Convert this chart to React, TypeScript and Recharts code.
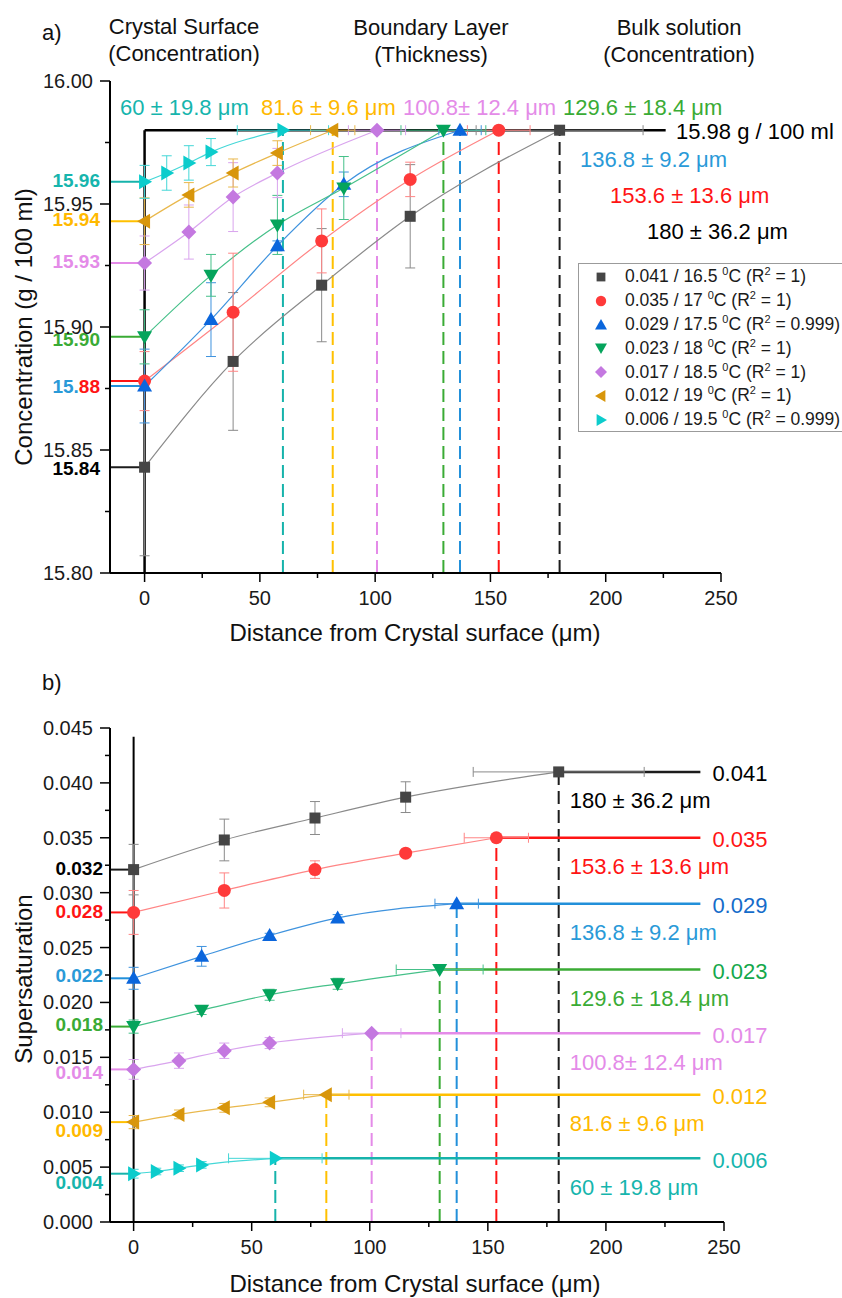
import React from 'react';
import {
  ComposedChart,
  Line,
  Scatter,
  XAxis,
  YAxis,
  ErrorBar,
  ReferenceLine,
  ReferenceDot,
} from 'recharts';

const FONT = '"Liberation Sans", Arial, Helvetica, sans-serif';

// distance from the crystal surface (µm) of every measured point, one list per run
const dist041 = [0, 38.4, 76.8, 115.2, 180];
const dist035 = [0, 38.4, 76.8, 115.2, 153.6];
const dist029 = [0, 28.8, 57.6, 86.4, 136.8];
const dist023 = [0, 28.8, 57.6, 86.4, 129.6];
const dist017 = [0, 19.2, 38.4, 57.6, 100.8];
const dist012 = [0, 19.2, 38.4, 57.6, 81.6];
const dist006 = [0, 9.6, 19.2, 28.8, 60];
const runDist = [dist041, dist035, dist029, dist023, dist017, dist012, dist006];

// concentration (g / 100 ml) at those points
const conc041 = [15.843, 15.886, 15.917, 15.945, 15.98];
const conc035 = [15.878, 15.906, 15.935, 15.96, 15.98];
const conc029 = [15.876, 15.903, 15.933, 15.958, 15.98];
const conc023 = [15.896, 15.921, 15.9415, 15.9565, 15.98];
const conc017 = [15.926, 15.9386, 15.9528, 15.9626, 15.98];
const conc012 = [15.943, 15.9537, 15.9626, 15.9707, 15.98];
const conc006 = [15.959, 15.9626, 15.9667, 15.9711, 15.98];
const runConc = [conc041, conc035, conc029, conc023, conc017, conc012, conc006];

// standard deviation of the concentration (none on the bulk point)
const concErr041 = [0.036, 0.028, 0.023, 0.021, null];
const concErr035 = [0.012, 0.024, 0.013, 0.007, null];
const concErr029 = [0.015, 0.015, 0.002, 0.005, null];
const concErr023 = [0.011, 0.0085, 0.012, 0.0128, null];
const concErr017 = [0.011, 0.011, 0.014, 0.01, null];
const concErr012 = [0.0095, 0.005, 0.0057, 0.005, null];
const concErr006 = [0.0067, 0.007, 0.007, 0.0055, null];
const runConcErr = [concErr041, concErr035, concErr029, concErr023, concErr017, concErr012, concErr006];

// supersaturation at the same points
const ss041 = [0.0321, 0.0348, 0.0368, 0.0387, 0.041];
const ss035 = [0.0282, 0.0302, 0.0321, 0.0336, 0.035];
const ss029 = [0.0222, 0.0242, 0.0261, 0.0277, 0.029];
const ss023 = [0.0178, 0.0193, 0.0207, 0.0217, 0.023];
const ss017 = [0.0139, 0.0147, 0.0156, 0.0163, 0.0172];
const ss012 = [0.0091, 0.0098, 0.0104, 0.0109, 0.0116];
const ss006 = [0.0044, 0.0046, 0.0049, 0.0052, 0.0058];
const runSs = [ss041, ss035, ss029, ss023, ss017, ss012, ss006];

const ssErr041 = [0.0023, 0.0019, 0.0015, 0.0014, null];
const ssErr035 = [0.002, 0.0016, 0.0008, 0.0003, null];
const ssErr029 = [0.001, 0.0009, 0.0002, 0.0003, null];
const ssErr023 = [0.0006, 0.0004, 0.0005, 0.0005, null];
const ssErr017 = [0.0009, 0.0007, 0.0007, 0.0005, null];
const ssErr012 = [0.0006, 0.0004, 0.0004, 0.0004, null];
const ssErr006 = [0.0004, 0.0003, 0.0003, 0.0003, null];
const runSsErr = [ssErr041, ssErr035, ssErr029, ssErr023, ssErr017, ssErr012, ssErr006];

// boundary layer thickness (µm) and its deviation
const thickness = [180, 153.6, 136.8, 129.6, 100.8, 81.6, 60];
const thicknessErr = [36.2, 13.6, 9.2, 18.4, 12.4, 9.6, 19.8];
const thicknessText = [
  '180 ± 36.2 μm',
  '153.6 ± 13.6 μm',
  '136.8 ± 9.2 μm',
  '129.6 ± 18.4 μm',
  '100.8± 12.4 μm',
  '81.6 ± 9.6 μm',
  '60 ± 19.8 μm',
];

const bulkConc = 15.98;

// legend entries
const runSupersat = ['0.041', '0.035', '0.029', '0.023', '0.017', '0.012', '0.006'];
const runTemp = ['16.5', '17', '17.5', '18', '18.5', '19', '19.5'];
const runR2 = ['1', '1', '0.999', '1', '1', '1', '0.999'];

// value tags at the surface and in the bulk
const surfaceConcText = ['15.84', '', '15.88', '15.90', '15.93', '15.94', '15.96'];
const surfaceSsText = ['0.032', '0.028', '0.022', '0.018', '0.014', '0.009', '0.004'];
const bulkSsText = ['0.041', '0.035', '0.029', '0.023', '0.017', '0.012', '0.006'];

// axis ticks
const distTicks = [0, 25, 50, 75, 100, 125, 150, 175, 200, 225, 250];
const concTicks = [15.8, 15.825, 15.85, 15.875, 15.9, 15.925, 15.95, 15.975, 16.0];
const ssTicks = [
  0, 0.0025, 0.005, 0.0075, 0.01, 0.0125, 0.015, 0.0175, 0.02, 0.0225, 0.025, 0.0275,
  0.03, 0.0325, 0.035, 0.0375, 0.04, 0.0425, 0.045,
];

const STYLE = [
  { marker: '#454545', curve: '#8a8a8a', shape: 'square', accent: '#1c1c1c', text: '#000000', value: '#000000' },
  { marker: '#ff3a3a', curve: '#ff8585', shape: 'circle', accent: '#ff1414', text: '#ff1414', value: '#ff1414' },
  { marker: '#0b66dc', curve: '#3f93de', shape: 'up', accent: '#2290da', text: '#2a9ad8', value: '#156cca' },
  { marker: '#05a45c', curve: '#45c089', shape: 'down', accent: '#3aab35', text: '#3aab35', value: '#14a84c' },
  { marker: '#c478e0', curve: '#d9a4ee', shape: 'diamond', accent: '#e48be8', text: '#e48be8', value: '#e48be8' },
  { marker: '#d8960b', curve: '#e9b84c', shape: 'left', accent: '#ffc000', text: '#ffb900', value: '#ffb900' },
  { marker: '#0ccccc', curve: '#44d7d7', shape: 'right', accent: '#16b3ab', text: '#16b5ad', value: '#16b5ad' },
];

// vertical nudges of the surface tags relative to their arrow
const concTagNudge = [1, 0, 0, 3, -2, -2, -1];
const ssTagNudge = [-1, -1, -3, -2, 3, 8, 9];

const AXIS = { stroke: '#000', strokeWidth: 2 };

function Marker({ kind, cx, cy, fill, s = 1 }: any) {
  const a = 7.5 * s;
  const b = 5.5 * s;
  switch (kind) {
    case 'square':
      return <rect x={cx - 5.5 * s} y={cy - 5.5 * s} width={11 * s} height={11 * s} fill={fill} />;
    case 'circle':
      return <circle cx={cx} cy={cy} r={6.5 * s} fill={fill} />;
    case 'up':
      return <polygon points={`${cx},${cy - a} ${cx + a},${cy + b} ${cx - a},${cy + b}`} fill={fill} />;
    case 'down':
      return <polygon points={`${cx},${cy + a} ${cx + a},${cy - b} ${cx - a},${cy - b}`} fill={fill} />;
    case 'diamond':
      return <polygon points={`${cx},${cy - a} ${cx + a},${cy} ${cx},${cy + a} ${cx - a},${cy}`} fill={fill} />;
    case 'left':
      return <polygon points={`${cx - a},${cy} ${cx + b},${cy - a} ${cx + b},${cy + a}`} fill={fill} />;
    default:
      return <polygon points={`${cx + a},${cy} ${cx - b},${cy - a} ${cx - b},${cy + a}`} fill={fill} />;
  }
}

const isMajor = (v: number, step: number) => Math.abs(v / step - Math.round(v / step)) < 1e-6;

function XTick({ x, y, payload }: any) {
  const v = payload.value;
  const major = isMajor(v, 50);
  return (
    <g>
      <line x1={x} x2={x} y1={y} y2={y + (major ? 9 : 5)} stroke="#000" strokeWidth={1.5} />
      {major && (
        <text x={x} y={y + 25} textAnchor="middle" dominantBaseline="central" fontSize={20} fontFamily={FONT} fill="#1a1a1a">
          {v}
        </text>
      )}
    </g>
  );
}

function YTick({ x, y, payload, step, digits }: any) {
  const v = payload.value;
  const major = isMajor(v, step);
  return (
    <g>
      <line x1={x} x2={x - (major ? 10 : 5)} y1={y} y2={y} stroke="#000" strokeWidth={1.5} />
      {major && (
        <text x={x - 17} y={y} textAnchor="end" dominantBaseline="central" fontSize={20} fontFamily={FONT} fill="#1a1a1a">
          {v.toFixed(digits)}
        </text>
      )}
    </g>
  );
}

const rows = (ys: number[][], errs: (number | null)[][], i: number) =>
  runDist[i].map((x, k) => ({
    x,
    y: ys[i][k],
    e: errs[i][k] ?? undefined,
    xe: k === runDist[i].length - 1 ? thicknessErr[i] : undefined,
  }));

const tag = (text: React.ReactNode, fill: string, dx: number, dy: number, opts: any = {}) => (p: any) => (
  <text
    x={p.cx + dx}
    y={p.cy + dy}
    fill={fill}
    fontSize={opts.size || 22}
    fontWeight={opts.bold ? 700 : 400}
    fontFamily={FONT}
    textAnchor={opts.anchor || 'start'}
    dominantBaseline="central"
  >
    {text}
  </text>
);

function seriesLayers(ys: number[][], errs: (number | null)[][]) {
  const curves = STYLE.map((s, i) => (
    <Line
      key={`c${i}`}
      data={rows(ys, errs, i)}
      dataKey="y"
      type="monotone"
      stroke={s.curve}
      strokeWidth={1.2}
      dot={false}
      activeDot={false}
      isAnimationActive={false}
    />
  ));
  const points = STYLE.map((s, i) => (
    <Scatter
      key={`p${i}`}
      data={rows(ys, errs, i)}
      dataKey="y"
      fill={s.marker}
      shape={(p: any) => <Marker kind={s.shape} cx={p.cx} cy={p.cy} fill={s.marker} />}
      isAnimationActive={false}
    >
      <ErrorBar dataKey="e" direction="y" width={5} stroke={s.curve} strokeWidth={1} />
      <ErrorBar dataKey="xe" direction="x" width={5} stroke={s.curve} strokeWidth={1} />
    </Scatter>
  ));
  return [...curves, ...points];
}

function ConcentrationChart() {
  return (
    <ComposedChart width={842} height={660} margin={{ top: 81, right: 121, bottom: 27, left: 40 }}>
      <XAxis
        type="number"
        dataKey="x"
        domain={[-15, 250]}
        ticks={distTicks}
        interval={0}
        allowDataOverflow
        height={60}
        axisLine={AXIS}
        tickLine={false}
        tickSize={0}
        tickMargin={0}
        tick={(p: any) => <XTick {...p} />}
      />
      <YAxis
        type="number"
        dataKey="y"
        domain={[15.8, 16.0]}
        ticks={concTicks}
        interval={0}
        allowDataOverflow
        width={70}
        axisLine={AXIS}
        tickLine={false}
        tickSize={0}
        tickMargin={0}
        tick={(p: any) => <YTick {...p} step={0.05} digits={2} />}
      />
      <ReferenceLine segment={[{ x: 0, y: 15.8 }, { x: 0, y: bulkConc }]} stroke="#000" strokeWidth={2.5} />
      <ReferenceLine segment={[{ x: 0, y: bulkConc }, { x: 226, y: bulkConc }]} stroke="#000" strokeWidth={2.5} />
      {thickness.map((t, i) => (
        <ReferenceLine
          key={`d${i}`}
          segment={[{ x: t, y: 15.8 }, { x: t, y: bulkConc }]}
          stroke={STYLE[i].accent}
          strokeWidth={2}
          strokeDasharray="13 6"
        />
      ))}
      {runConc.map((c, i) => (
        <ReferenceLine
          key={`a${i}`}
          segment={[{ x: -15, y: c[0] }, { x: 0, y: c[0] }]}
          stroke={STYLE[i].accent}
          strokeWidth={2}
        />
      ))}
      {seriesLayers(runConc, runConcErr)}
      {runConc.map((c, i) =>
        surfaceConcText[i] ? (
          <ReferenceDot
            key={`t${i}`}
            x={-15}
            y={c[0]}
            r={0}
            shape={tag(
              i === 2 ? (
                <>
                  <tspan fill={STYLE[2].text}>15.</tspan>
                  <tspan fill={STYLE[1].text}>88</tspan>
                </>
              ) : (
                surfaceConcText[i]
              ),
              STYLE[i].text,
              -10,
              concTagNudge[i],
              { bold: true, size: 19, anchor: 'end' },
            )}
          />
        ) : null,
      )}
    </ComposedChart>
  );
}

function SupersaturationChart() {
  return (
    <ComposedChart width={842} height={638} margin={{ top: 68, right: 118, bottom: 16, left: 40 }}>
      <XAxis
        type="number"
        dataKey="x"
        domain={[-10, 250]}
        ticks={distTicks}
        interval={0}
        allowDataOverflow
        height={60}
        axisLine={AXIS}
        tickLine={false}
        tickSize={0}
        tickMargin={0}
        tick={(p: any) => <XTick {...p} />}
      />
      <YAxis
        type="number"
        dataKey="y"
        domain={[0, 0.045]}
        ticks={ssTicks}
        interval={0}
        allowDataOverflow
        width={70}
        axisLine={AXIS}
        tickLine={false}
        tickSize={0}
        tickMargin={0}
        tick={(p: any) => <YTick {...p} step={0.005} digits={3} />}
      />
      <ReferenceLine segment={[{ x: 0, y: 0 }, { x: 0, y: 0.0442 }]} stroke="#000" strokeWidth={2} />
      {runSs.map((v, i) => {
        const end = v[v.length - 1];
        return (
          <React.Fragment key={`r${i}`}>
            <ReferenceLine
              segment={[{ x: thickness[i], y: 0 }, { x: thickness[i], y: end }]}
              stroke={STYLE[i].accent}
              strokeWidth={2}
              strokeDasharray="13 6"
            />
            <ReferenceLine
              segment={[{ x: thickness[i], y: end }, { x: 240, y: end }]}
              stroke={STYLE[i].accent}
              strokeWidth={2.5}
            />
            <ReferenceLine
              segment={[{ x: -10, y: v[0] }, { x: 0, y: v[0] }]}
              stroke={STYLE[i].accent}
              strokeWidth={2}
            />
          </React.Fragment>
        );
      })}
      {seriesLayers(runSs, runSsErr)}
      {runSs.map((v, i) => {
        const end = v[v.length - 1];
        return (
          <React.Fragment key={`l${i}`}>
            <ReferenceDot
              x={-10}
              y={v[0]}
              r={0}
              shape={tag(surfaceSsText[i], STYLE[i].text, -7, ssTagNudge[i], { bold: true, size: 19, anchor: 'end' })}
            />
            <ReferenceDot x={240} y={end} r={0} shape={tag(bulkSsText[i], STYLE[i].value, 12, 2)} />
            <ReferenceDot x={180} y={end} r={0} shape={tag(thicknessText[i], STYLE[i].text, 11, 29)} />
          </React.Fragment>
        );
      })}
    </ComposedChart>
  );
}

const txt = { fontFamily: FONT, fill: '#111' };

function Captions() {
  return (
    <svg width={842} height={1298} style={{ position: 'absolute', left: 0, top: 0, pointerEvents: 'none' }}>
      <g {...txt} fontSize={22}>
        <text x={42} y={40}>a)</text>
        <text x={42} y={690}>b)</text>
        <text x={184} y={34} textAnchor="middle">Crystal Surface</text>
        <text x={184} y={61} textAnchor="middle">(Concentration)</text>
        <text x={431} y={35} textAnchor="middle">Boundary Layer</text>
        <text x={431} y={62} textAnchor="middle">(Thickness)</text>
        <text x={679} y={35} textAnchor="middle">Bulk solution</text>
        <text x={679} y={62} textAnchor="middle">(Concentration)</text>
      </g>
      <g fontFamily={FONT} fontSize={22}>
        <text x={120} y={115} fill={STYLE[6].text}>{thicknessText[6]}</text>
        <text x={261} y={115} fill={STYLE[5].text}>{thicknessText[5]}</text>
        <text x={403} y={115} fill={STYLE[4].text}>{thicknessText[4]}</text>
        <text x={563} y={115} fill={STYLE[3].text}>{thicknessText[3]}</text>
        <text x={676} y={139} fill="#000">15.98 g / 100 ml</text>
        <text x={580} y={167} fill={STYLE[2].text}>{thicknessText[2]}</text>
        <text x={610} y={203} fill={STYLE[1].text}>{thicknessText[1]}</text>
        <text x={647} y={239} fill="#000">{thicknessText[0]}</text>
      </g>
      <g {...txt} fontSize={24}>
        <text x={415} y={641} textAnchor="middle">Distance from Crystal surface (μm)</text>
        <text x={415} y={1292} textAnchor="middle">Distance from Crystal surface (μm)</text>
        <text transform="translate(32,327) rotate(-90)" textAnchor="middle">Concentration (g / 100 ml)</text>
        <text transform="translate(32,979) rotate(-90)" textAnchor="middle">Supersaturation</text>
      </g>
    </svg>
  );
}

const supStyle: React.CSSProperties = { fontSize: 11, position: 'relative', top: -7, verticalAlign: 'baseline' };

function RunLegend() {
  return (
    <div
      style={{
        position: 'absolute',
        left: 578,
        top: 263,
        width: 272,
        height: 169,
        boxSizing: 'border-box',
        border: '1px solid #9b9b9b',
        background: '#fff',
        paddingTop: 1,
        fontFamily: FONT,
        fontSize: 17.5,
        color: '#1a1a1a',
      }}
    >
      {runSupersat.map((s, i) => (
        <div key={s} style={{ height: 23.8, display: 'flex', alignItems: 'center', whiteSpace: 'nowrap' }}>
          <svg width={46} height={24} style={{ flex: 'none' }}>
            <Marker kind={STYLE[i].shape} cx={22} cy={12} fill={STYLE[i].marker} s={0.8} />
          </svg>
          <span>
            {s} / {runTemp[i]} <span style={supStyle}>0</span>C (R<span style={supStyle}>2</span> = {runR2[i]})
          </span>
        </div>
      ))}
    </div>
  );
}

export default function App() {
  return (
    <div style={{ position: 'absolute', left: 0, top: 0, width: 842, height: 1298, overflow: 'hidden', background: '#fff' }}>
      <div style={{ position: 'absolute', left: 0, top: 0 }}>
        <ConcentrationChart />
      </div>
      <div style={{ position: 'absolute', left: 0, top: 660 }}>
        <SupersaturationChart />
      </div>
      <RunLegend />
      <Captions />
    </div>
  );
}
